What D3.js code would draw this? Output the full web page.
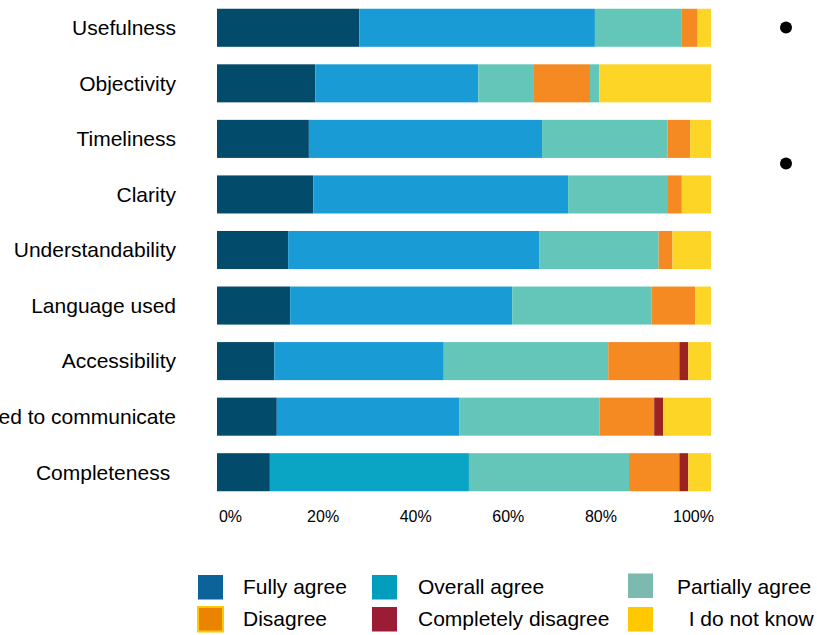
<!DOCTYPE html>
<html>
<head>
<meta charset="utf-8">
<script src="https://cdn.jsdelivr.net/npm/d3@7"></script>
<style>
  body { margin: 0; background: #fff; }
  svg { display: block; font-family: "Liberation Sans", Arial, sans-serif; }
  text { white-space: pre; }
</style>
</head>
<body>
<div id="chart"></div>
<script>
// categories top to bottom
var categories = ["Usefulness", "Objectivity", "Timeliness", "Clarity", "Understandability",
  "Language used", "Accessibility", "Means used to communicate", "Completeness "];

var series = ["Fully agree", "Overall agree", "Partially agree", "Disagree", "Completely disagree", "I do not know"];

// shares in %
var fullyAgree        = [28.8, 19.9, 18.6, 19.5, 14.4, 14.8, 11.6, 12.1, 10.7];
var overallAgree      = [47.7, 33.0, 47.2, 51.5, 50.9, 44.9, 34.3, 37.0, 40.3];
var partiallyAgree    = [17.6, 11.1, 25.4, 20.2, 24.1, 28.2, 33.3, 28.3, 32.4];
var disagree          = [3.2, 11.5, 4.6, 2.8, 2.8, 8.8, 14.4, 11.1, 10.2];
var completelyDisagree= [0, 1.9, 0, 0, 0, 0, 1.8, 1.8, 1.8];
var dontKnow          = [2.7, 22.6, 4.2, 5.9, 7.8, 3.2, 4.6, 9.7, 4.6];

var tickValues = [0, 20, 40, 60, 80, 100];

var barColors = ["#034b6b", "#199bd6", "#63c6b9", "#f58a22", "#9b2423", "#fdd526"];
var legendColors = ["#0b6399", "#009dbd", "#7cbab0", "#e98300", "#9b1d35", "#ffc800"];
// a few segments are coloured differently in the original
var colorOverrides = {
  "Objectivity|Completely disagree": "#63c6b9",
  "Completeness |Overall agree": "#0aa5c4"
};

var cols = [fullyAgree, overallAgree, partiallyAgree, disagree, completelyDisagree, dontKnow];
var data = categories.map(function (c, i) {
  var row = { category: c };
  series.forEach(function (s, j) { row[s] = cols[j][i]; });
  return row;
});

var width = 817, height = 635;
var svg = d3.select("#chart").append("svg")
  .attr("width", width)
  .attr("height", height);

var x = d3.scaleLinear().domain([0, 1]).range([217, 711]);
var y = d3.scaleBand().domain(categories).range([0, 500])
  .paddingInner(0.315).paddingOuter(0.1575);

var stacked = d3.stack().keys(series).offset(d3.stackOffsetExpand)(data);

var layers = svg.selectAll(".layer")
  .data(stacked)
  .enter().append("g")
  .attr("class", "layer");

layers.selectAll("rect")
  .data(function (d) { return d.map(function (p) { return { key: d.key, idx: d.index, p: p }; }); })
  .enter().append("rect")
  .attr("x", function (d) { return x(d.p[0]); })
  .attr("y", function (d) { return y(d.p.data.category); })
  .attr("width", function (d) { return x(d.p[1]) - x(d.p[0]); })
  .attr("height", y.bandwidth())
  .attr("fill", function (d) {
    return colorOverrides[d.p.data.category + "|" + d.key] || barColors[d.idx];
  });

// category labels
var yaxis = svg.append("g")
  .attr("transform", "translate(176,0)")
  .call(d3.axisLeft(y).tickSize(0).tickPadding(0));
yaxis.select(".domain").remove();
yaxis.selectAll("text")
  .attr("font-size", 21)
  .attr("font-family", "Liberation Sans, Arial, sans-serif")
  .attr("fill", "#000")
  .attr("dy", "0.35em");

// percent labels (spread a little narrower than the bars, as in the original)
var xLab = d3.scaleLinear().domain([0, 100]).range([230, 693]);
var xaxis = svg.append("g")
  .attr("transform", "translate(0,516)")
  .call(d3.axisBottom(xLab).tickValues(tickValues).tickSize(0).tickPadding(0)
    .tickFormat(function (d) { return d + "%"; }));
xaxis.select(".domain").remove();
xaxis.selectAll("text")
  .attr("font-size", 16)
  .attr("font-family", "Liberation Sans, Arial, sans-serif")
  .attr("fill", "#000")
  .attr("y", 0)
  .attr("dy", "0.35em");

// bullets on the right
var bullets = [27.5, 163.5];
svg.selectAll(".bullet")
  .data(bullets)
  .enter().append("circle")
  .attr("class", "bullet")
  .attr("cx", 786)
  .attr("cy", function (d) { return d; })
  .attr("r", 6)
  .attr("fill", "#000");

// legend
var legendX = [198, 372, 628];
var legendTextX = [243, 418, 677];
var legendY = [575, 607];
var legendLabels = ["Fully agree", "Overall agree", "Partially agree", "Disagree", "Completely disagree", "  I do not know"];

var leg = svg.selectAll(".leg")
  .data(legendLabels)
  .enter().append("g")
  .attr("class", "leg");

leg.append("rect")
  .attr("x", function (d, i) { return legendX[i % 3]; })
  .attr("y", function (d, i) { return legendY[Math.floor(i / 3)] - (i === 2 ? 1.5 : 0); })
  .attr("width", 25)
  .attr("height", 24.5)
  .attr("fill", function (d, i) { return legendColors[i]; })
  .attr("stroke", function (d, i) { return i === 3 ? "#ffc800" : "none"; })
  .attr("stroke-width", 2);

leg.append("text")
  .attr("x", function (d, i) { return legendTextX[i % 3]; })
  .attr("y", function (d, i) { return legendY[Math.floor(i / 3)] + 12; })
  .attr("dy", "0.35em")
  .attr("font-size", 21)
  .attr("fill", "#000")
  .text(function (d) { return d; });
</script>
</body>
</html>
